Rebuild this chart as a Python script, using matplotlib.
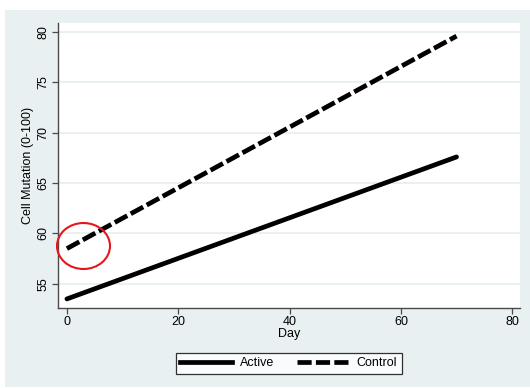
import matplotlib
matplotlib.use('Agg')
import matplotlib.pyplot as plt
from matplotlib.patches import Rectangle, Ellipse
from matplotlib.lines import Line2D

plt.rcParams['font.family'] = ['Liberation Sans', 'DejaVu Sans']

######################### DATA ################################################

day = [0, 70]
active = [53.5, 67.6]
control = [58.5, 79.6]

xticks = [0, 20, 40, 60, 80]
yticks = [55, 60, 65, 70, 75, 80]

######################### FIG PARAMS ##########################################

W, H = 530, 388
bg = '#e9f0f1'
grid_clr = '#e4eef0'
axis_clr = '#4a4a4a'
fs = 9
lw = 3.4
dsh = (3.0, 0.85)

fig = plt.figure(figsize=(W / 100, H / 100), dpi=100, facecolor='white')
fig.patches.append(Rectangle((5 / W, 1 - 387 / H), (W - 5) / W, (387 - 10) / H,
                             transform=fig.transFigure, facecolor=bg,
                             edgecolor='none', zorder=-10))

ax = fig.add_axes([58 / W, 1 - 308 / H, (520 - 58) / W, (308 - 23) / H])
ax.set_facecolor('white')
ax.set_zorder(1)

ax.plot(day, active, color='black', lw=lw, solid_capstyle='round', zorder=3)
ax.plot(day, control, color='black', lw=lw, dashes=dsh,
        dash_capstyle='butt', zorder=3)

ax.set_xlim(-1.6, 81.4)
ax.set_ylim(52.6, 80.9)
ax.set_xticks(xticks)
ax.set_yticks(yticks)
ax.grid(axis='y', color=grid_clr, lw=1.2)
ax.set_axisbelow(True)

for s in ['top', 'right']:
    ax.spines[s].set_visible(False)
for s in ['left', 'bottom']:
    ax.spines[s].set_color(axis_clr)
    ax.spines[s].set_linewidth(1.0)

ax.tick_params(axis='both', color=axis_clr, length=4, width=0.9,
               labelsize=fs, pad=2)
plt.setp(ax.get_yticklabels(), rotation=90, va='center')

ax.set_xlabel('Day', fontsize=fs, labelpad=0)
ax.set_ylabel('Cell Mutation (0-100)', fontsize=fs, labelpad=3)

# red circle annotation
ax.add_patch(Ellipse((83.5, H - 246), 53, 46, transform=None, fill=False,
                     edgecolor='#e8161b', lw=1.5, zorder=4, clip_on=False))

# legend
h1 = Line2D([], [], color='black', lw=lw)
h2 = Line2D([], [], color='black', lw=lw, dashes=(3.0, 0.9))
leg = fig.legend([h1, h2], ['Active', 'Control'], loc='center',
                 bbox_to_anchor=(288.5 / W, 1 - 363.5 / H), ncol=2,
                 fontsize=fs, frameon=True, fancybox=False, handlelength=4.2,
                 handletextpad=0.6, columnspacing=1.8, borderpad=0.35)
leg.get_frame().set_edgecolor('black')
leg.get_frame().set_linewidth(0.9)

fig.savefig('out.png', dpi=100, facecolor='white')
plt.close()
